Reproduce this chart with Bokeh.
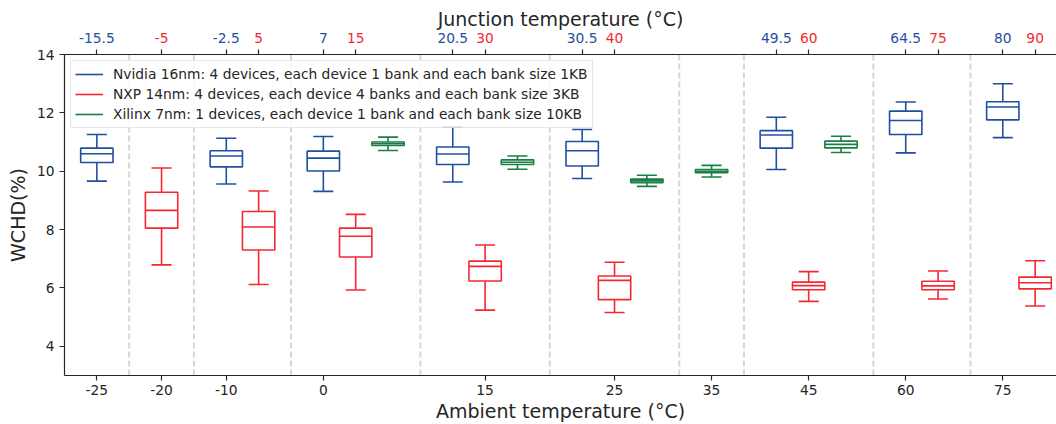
from bokeh.plotting import figure
from bokeh.layouts import column
from bokeh.models import (ColumnDataSource, FixedTicker, Range1d, Span, LinearAxis,
                          Legend, LegendItem)
from bokeh.embed import file_html
from bokeh.resources import INLINE
from bokeh.core.properties import value

# ---------------- data ----------------
ambient = [-25, -20, -10, 0, 15, 25, 35, 45, 60, 75]

# box statistics per ambient temperature: [lower whisker, Q1, median, Q3, upper whisker]
nvidia_stats = [
    [9.66, 10.30, 10.60, 10.79, 11.26],
    None,
    [9.56, 10.15, 10.52, 10.70, 11.13],
    [9.31, 10.01, 10.45, 10.69, 11.19],
    [9.63, 10.23, 10.59, 10.83, 11.51],
    [9.75, 10.18, 10.70, 11.02, 11.43],
    None,
    [10.06, 10.79, 11.24, 11.39, 11.85],
    [10.63, 11.26, 11.74, 12.06, 12.37],
    [11.15, 11.76, 12.20, 12.38, 13.00],
]
nxp_stats = [
    None,
    [6.79, 8.05, 8.66, 9.28, 10.11],
    [6.12, 7.30, 8.09, 8.62, 9.32],
    [5.93, 7.06, 7.77, 8.05, 8.52],
    [5.24, 6.24, 6.74, 6.92, 7.47],
    [5.16, 5.60, 6.26, 6.41, 6.88],
    None,
    [5.54, 5.94, 6.08, 6.20, 6.56],
    [5.62, 5.94, 6.07, 6.23, 6.58],
    [5.38, 5.97, 6.18, 6.37, 6.93],
]
xilinx_stats = [
    None,
    None,
    None,
    [10.71, 10.88, 10.94, 11.00, 11.17],
    [10.07, 10.23, 10.31, 10.39, 10.52],
    [9.48, 9.61, 9.67, 9.73, 9.86],
    [9.80, 9.95, 10.00, 10.06, 10.20],
    [10.64, 10.80, 10.92, 11.03, 11.20],
    None,
    None,
]

# junction temperatures shown on the top axis
nvidia_junction = [-15.5, None, -2.5, 7, 20.5, 30.5, None, 49.5, 64.5, 80]
nxp_junction = [None, -5, 5, 15, 30, 40, None, 60, 75, 90]

# which series' box carries the ambient tick label in each group
ambient_tick_series = ["nvidia", "nxp", "nvidia", "nvidia", "nxp", "nxp",
                       "xilinx", "nxp", "nvidia", "nvidia"]

series_names = ["nvidia", "nxp", "xilinx"]
series_labels = {
    "nvidia": "Nvidia 16nm: 4 devices, each device 1 bank and each bank size 1KB",
    "nxp": "NXP 14nm: 4 devices, each device 4 banks and each bank size 3KB",
    "xilinx": "Xilinx 7nm: 1 devices, each device 1 bank and each bank size 10KB",
}
series_stats = {"nvidia": nvidia_stats, "nxp": nxp_stats, "xilinx": xilinx_stats}
series_colors = {"nvidia": "#1f50a0", "nxp": "#f52832", "xilinx": "#1a7f46"}

# ---------------- slot layout ----------------
slots = {s: [None] * len(ambient) for s in series_names}
separators = []
slot = 0
for g in range(len(ambient)):
    for s in series_names:
        if series_stats[s][g] is not None:
            slots[s][g] = slot
            slot += 1
    if g < len(ambient) - 1:
        separators.append(slot)
        slot += 1

top_pos, top_txt, top_col = [], [], []
for g in range(len(ambient)):
    for s, junc in (("nvidia", nvidia_junction), ("nxp", nxp_junction)):
        if junc[g] is not None:
            top_pos.append(slots[s][g])
            top_txt.append(f"{junc[g]:g}")
            top_col.append(series_colors[s])

FONT = "DejaVu Sans"
TXT = "#262626"
BOX_W = 1.0
CAP_W = 0.62
W = 1056
TOP_H = 44
MAIN_H = 380
LEFT = 64

xr = Range1d(-1.0, 29.66)

# ---------------- main plot ----------------
p = figure(width=W, height=MAIN_H, x_range=xr, y_range=Range1d(3, 14),
           output_backend="svg", toolbar_location=None,
           min_border_left=LEFT, min_border_right=0, min_border_top=10, min_border_bottom=49)
p.outline_line_color = None
p.grid.visible = False

for s in separators:
    p.add_layout(Span(location=s, dimension="height", line_color="#d6d6d6",
                      line_width=2, line_dash="6 3", level="underlay"))

legend_items = []
for s in series_names:
    pos, lo, q1, med, q3, hi = [], [], [], [], [], []
    for g, st in enumerate(series_stats[s]):
        if st is None:
            continue
        pos.append(slots[s][g])
        lo.append(st[0]); q1.append(st[1]); med.append(st[2]); q3.append(st[3]); hi.append(st[4])
    src = ColumnDataSource(dict(
        pos=pos, lo=lo, q1=q1, med=med, q3=q3, hi=hi,
        cl=[x - CAP_W / 2 for x in pos], cr=[x + CAP_W / 2 for x in pos],
        bl=[x - BOX_W / 2 for x in pos], br=[x + BOX_W / 2 for x in pos],
    ))
    c = series_colors[s]
    w1 = p.segment(x0="pos", y0="q3", x1="pos", y1="hi", source=src, line_color=c, line_width=1.6)
    p.segment(x0="pos", y0="q1", x1="pos", y1="lo", source=src, line_color=c, line_width=1.6)
    p.segment(x0="cl", y0="hi", x1="cr", y1="hi", source=src, line_color=c, line_width=1.6)
    p.segment(x0="cl", y0="lo", x1="cr", y1="lo", source=src, line_color=c, line_width=1.6)
    p.quad(left="bl", right="br", bottom="q1", top="q3", source=src,
           fill_color=None, line_color=c, line_width=1.6)
    p.segment(x0="bl", y0="med", x1="br", y1="med", source=src, line_color=c, line_width=1.6)
    legend_items.append(LegendItem(label=series_labels[s], renderers=[w1]))

legend = Legend(items=legend_items, location="top_left", margin=6,
                padding=4, spacing=2, glyph_width=28, glyph_height=18, label_height=18,
                label_standoff=10, label_text_font=FONT, label_text_font_size="13.8px",
                label_text_color=TXT, border_line_color="#cccccc", border_line_width=1,
                background_fill_color="white", background_fill_alpha=0.8)
p.add_layout(legend)

xa = p.below[0]
tick_pos = [slots[s][g] for g, s in enumerate(ambient_tick_series)]
xa.ticker = FixedTicker(ticks=tick_pos)
xa.major_label_overrides = {tp: f"{a}" for tp, a in zip(tick_pos, ambient)}
xa.axis_label = "Ambient temperature (°C)"

ya = p.left[0]
ya.ticker = FixedTicker(ticks=[4, 6, 8, 10, 12, 14])
ya.axis_label = "WCHD(%)"

for ax in (xa, ya):
    ax.axis_line_color = TXT
    ax.axis_line_width = 1.2
    ax.major_tick_line_color = TXT
    ax.major_tick_line_width = 1.2
    ax.major_tick_out = 5
    ax.major_tick_in = 0
    ax.minor_tick_out = 0
    ax.minor_tick_in = 0
    ax.major_label_text_font = FONT
    ax.major_label_text_font_size = "13.8px"
    ax.major_label_text_color = TXT
    ax.axis_label_text_font = FONT
    ax.axis_label_text_font_size = "19px"
    ax.axis_label_text_font_style = "normal"
    ax.axis_label_text_color = TXT
xa.major_label_standoff = 4
xa.axis_label_standoff = 2
ya.major_label_standoff = 5
ya.axis_label_standoff = 5

# top spine with the junction-temperature ticks (its labels are drawn in the strip above)
ta = LinearAxis(ticker=FixedTicker(ticks=top_pos), major_label_text_color=None,
                major_label_text_font_size="1px", major_label_standoff=0,
                major_tick_out=5, major_tick_in=0, minor_tick_out=0, minor_tick_in=0,
                axis_line_color=TXT, axis_line_width=1.2,
                major_tick_line_color=TXT, major_tick_line_width=1.2)
p.add_layout(ta, "above")

# ---------------- top strip: junction temperature labels ----------------
t = figure(width=W, height=TOP_H, x_range=xr, y_range=Range1d(0, TOP_H),
           output_backend="svg", toolbar_location=None,
           x_axis_location=None, y_axis_location=None,
           min_border_left=LEFT, min_border_right=0, min_border_top=0, min_border_bottom=0)
t.outline_line_color = None
t.grid.visible = False

tsrc = ColumnDataSource(dict(x=top_pos, ly=[7] * len(top_pos), text=top_txt, color=top_col))
t.text(x="x", y="ly", text="text", source=tsrc, text_color="color",
       text_align="center", text_baseline="middle",
       text_font=value(FONT), text_font_size="13.8px")
t.text(x=[(xr.start + xr.end) / 2], y=[26], text=["Junction temperature (°C)"],
       text_align="center", text_baseline="middle", text_color=TXT,
       text_font=value(FONT), text_font_size="19px")

layout = column(t, p, spacing=0)
open("out.html", "w").write(file_html(layout, INLINE))
